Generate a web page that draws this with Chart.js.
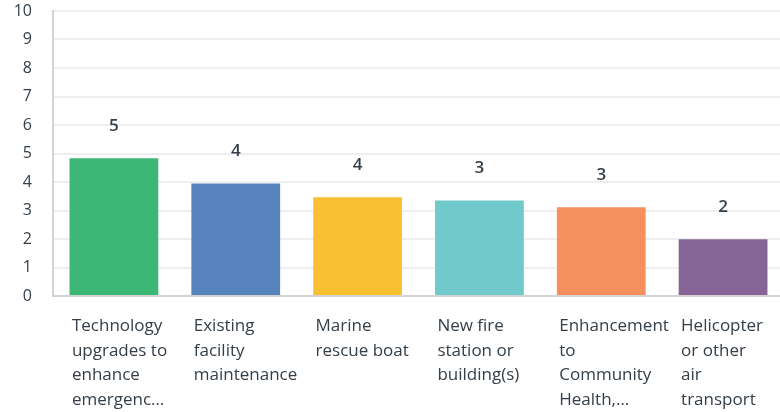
<!DOCTYPE html>
<html>
<head>
<meta charset="utf-8">
<script src="https://cdn.jsdelivr.net/npm/chart.js@4/dist/chart.umd.min.js"></script>
<style>
  html, body { margin: 0; padding: 0; background: #fff; overflow: hidden; }
  #wrap { width: 784px; height: 412px; position: relative; }
</style>
</head>
<body>
<div id="wrap"><canvas id="priorities-chart"></canvas></div>
<script>
// categories, split into the lines shown under each bar
let categories = [
    ['Technology', 'upgrades to', 'enhance', 'emergenc…'],
    ['Existing', 'facility', 'maintenance'],
    ['Marine', 'rescue boat'],
    ['New fire', 'station or', 'building(s)'],
    ['Enhancement', 'to', 'Community', 'Health,…'],
    ['Helicopter', 'or other', 'air', 'transport']
];

// average score per option
let scores = [4.87, 3.98, 3.5, 3.39, 3.15, 2.03];

let barColors = ['#3db776', '#5683bb', '#f9c132', '#72c9cc', '#f58f5d', '#866596'];

let yTicks = [0, 1, 2, 3, 4, 5, 6, 7, 8, 9, 10];

const textColor = '#333e48';
const fontFamily = "'Open Sans', 'DejaVu Sans', sans-serif";

// rounded value printed above each bar
const valueLabels = {
    id: 'valueLabels',
    afterDatasetsDraw(chart) {
        const ctx = chart.ctx;
        const meta = chart.getDatasetMeta(0);
        ctx.save();
        ctx.font = '600 17px ' + fontFamily;
        ctx.fillStyle = textColor;
        ctx.textAlign = 'center';
        ctx.textBaseline = 'middle';
        meta.data.forEach((bar, i) => {
            const v = chart.data.datasets[0].data[i];
            ctx.fillText(String(Math.round(v)), bar.x, bar.y - 31);
        });
        ctx.restore();
    }
};

const ctx = document.getElementById('priorities-chart').getContext('2d');

const prioritiesChart = new Chart(ctx, {
    type: 'bar',
    data: {
        labels: categories,
        datasets: [{
            data: scores,
            backgroundColor: barColors,
            borderColor: 'rgba(255, 255, 255, 0.3)',
            borderWidth: 1,
            categoryPercentage: 1,
            barPercentage: 0.745
        }]
    },
    options: {
        responsive: true,
        maintainAspectRatio: false,
        animation: false,
        layout: { padding: { top: 11, right: 0, bottom: 0, left: 0 } },
        plugins: {
            legend: { display: false },
            tooltip: { enabled: false }
        },
        scales: {
            x: {
                grid: { display: false, drawTicks: false },
                border: { display: true, color: '#d3d3d3', width: 2 },
                ticks: {
                    color: textColor,
                    font: { family: fontFamily, size: 17, lineHeight: 1.44 },
                    align: 'start',
                    labelOffset: -42,
                    padding: 18,
                    maxRotation: 0,
                    autoSkip: false
                },
                afterFit(scale) {
                    scale.height = 116;
                    scale.paddingLeft = 0;
                    scale.paddingRight = 0;
                }
            },
            y: {
                min: 0,
                max: 10,
                afterBuildTicks(scale) {
                    scale.ticks = yTicks.map(v => ({ value: v }));
                },
                grid: { color: '#eeeeee', lineWidth: 2, drawTicks: false },
                border: { display: true, color: '#d3d3d3', width: 2 },
                ticks: {
                    color: textColor,
                    font: { family: fontFamily, size: 16 },
                    padding: 21
                },
                afterFit(scale) {
                    scale.width = 53;
                    scale.paddingTop = 0;
                    scale.paddingBottom = 0;
                }
            }
        }
    },
    plugins: [valueLabels]
});
</script>
</body>
</html>
